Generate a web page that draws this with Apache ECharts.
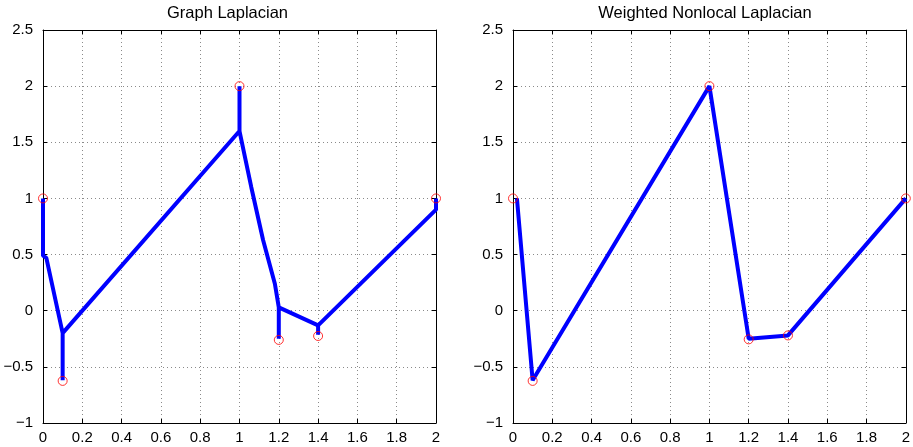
<!DOCTYPE html>
<html><head><meta charset="utf-8">
<script src="https://cdn.jsdelivr.net/npm/echarts@6/dist/echarts.min.js"></script>
<style>html,body{margin:0;padding:0;background:#fff}#c{width:913px;height:447px}</style>
</head><body><div id="c"></div>
<script>
// Titles
const titles = ["Graph Laplacian", "Weighted Nonlocal Laplacian"];
// Axis ranges / ticks
const xMin = 0, xMax = 2, xStep = 0.2;
const yMin = -1, yMax = 2.5, yStep = 0.5;
// Left panel: Graph Laplacian solution path
const glX = [0, 0, 0.017, 0.1, 0.1, 0.1, 1, 1, 1, 1.06, 1.12, 1.18, 1.2, 1.2, 1.2, 1.4, 1.4, 1.4, 2, 2];
const glY = [1, 0.49, 0.47, -0.2, -0.62, -0.2, 1.6, 2, 1.6, 1.1, 0.63, 0.24, 0.03, -0.25, 0.03, -0.13, -0.215, -0.13, 0.9, 1];
// Right panel: Weighted Nonlocal Laplacian solution path
const nlX = [0.02, 0.1, 1, 1.2, 1.4, 2];
const nlY = [1, -0.62, 2, -0.25, -0.22, 1];
// Labelled points (red circles)
const ptX = [0, 0.1, 1, 1.2, 1.4, 2];
const ptYLeft = [1, -0.625, 2, -0.26, -0.225, 1];
const ptYRight = [1, -0.625, 2, -0.255, -0.22, 1];

const FONT = "Liberation Sans";
const zip = (a, b) => a.map((v, i) => [v, b[i]]);
const fmt = v => String(+v.toFixed(2)).replace('-', '\u2212');

const grids = [
  {left: 43, top: 30, width: 393, height: 393},
  {left: 513, top: 30, width: 393, height: 393}
];
const xAxes = [], yAxes = [];
grids.forEach((g, i) => {
  xAxes.push({
    type: 'value', gridIndex: i, min: xMin, max: xMax, interval: xStep, position: 'bottom',
    axisLine: {show: true, onZero: false, lineStyle: {color: '#000', width: 1}},
    axisTick: {show: true, inside: true, length: 4, lineStyle: {color: '#000'}},
    axisLabel: {color: '#000', fontSize: 15, fontFamily: FONT, margin: 7, formatter: fmt},
    splitLine: {show: true, lineStyle: {color: '#8a8a8a', type: [1, 3], width: 1}}
  });
  xAxes.push({
    type: 'value', gridIndex: i, min: xMin, max: xMax, interval: xStep, position: 'top',
    axisLine: {show: true, onZero: false, lineStyle: {color: '#000', width: 1}},
    axisTick: {show: true, inside: true, length: 4, lineStyle: {color: '#000'}},
    axisLabel: {show: false}, splitLine: {show: false}
  });
  yAxes.push({
    type: 'value', gridIndex: i, min: yMin, max: yMax, interval: yStep, position: 'left',
    axisLine: {show: true, onZero: false, lineStyle: {color: '#000', width: 1}},
    axisTick: {show: true, inside: true, length: 4, lineStyle: {color: '#000'}},
    axisLabel: {color: '#000', fontSize: 15, fontFamily: FONT, margin: 10, formatter: fmt},
    splitLine: {show: true, lineStyle: {color: '#8a8a8a', type: [1, 3], width: 1}}
  });
  yAxes.push({
    type: 'value', gridIndex: i, min: yMin, max: yMax, interval: yStep, position: 'right',
    axisLine: {show: true, onZero: false, lineStyle: {color: '#000', width: 1}},
    axisTick: {show: true, inside: true, length: 4, lineStyle: {color: '#000'}},
    axisLabel: {show: false}, splitLine: {show: false}
  });
});

const lineStyle = {color: '#0000ff', width: 4};
const circ = {color: 'transparent', borderColor: '#ff0000', borderWidth: 1};

const option = {
  animation: false,
  backgroundColor: '#fff',
  title: [
    {text: titles[0], left: 227.5, top: 5, textAlign: 'center', padding: 0,
     textStyle: {fontFamily: FONT, fontSize: 16.5, fontWeight: 'normal', color: '#000'}},
    {text: titles[1], left: 705, top: 5, textAlign: 'center', padding: 0,
     textStyle: {fontFamily: FONT, fontSize: 16.5, fontWeight: 'normal', color: '#000'}}
  ],
  grid: grids,
  xAxis: xAxes,
  yAxis: yAxes,
  series: [
    {type: 'line', xAxisIndex: 0, yAxisIndex: 0, data: zip(glX, glY), showSymbol: false,
     lineStyle: lineStyle, itemStyle: {color: '#0000ff'}, z: 2},
    {type: 'scatter', xAxisIndex: 0, yAxisIndex: 0, data: zip(ptX, ptYLeft), symbol: 'circle',
     symbolSize: 9, itemStyle: circ, z: 3},
    {type: 'line', xAxisIndex: 2, yAxisIndex: 2, data: zip(nlX, nlY), showSymbol: false,
     lineStyle: lineStyle, itemStyle: {color: '#0000ff'}, z: 2},
    {type: 'scatter', xAxisIndex: 2, yAxisIndex: 2, data: zip(ptX, ptYRight), symbol: 'circle',
     symbolSize: 9, itemStyle: circ, z: 3}
  ]
};
const chart = echarts.init(document.getElementById('c'), null, {renderer: 'canvas'});
chart.setOption(option);
</script>
</body></html>
